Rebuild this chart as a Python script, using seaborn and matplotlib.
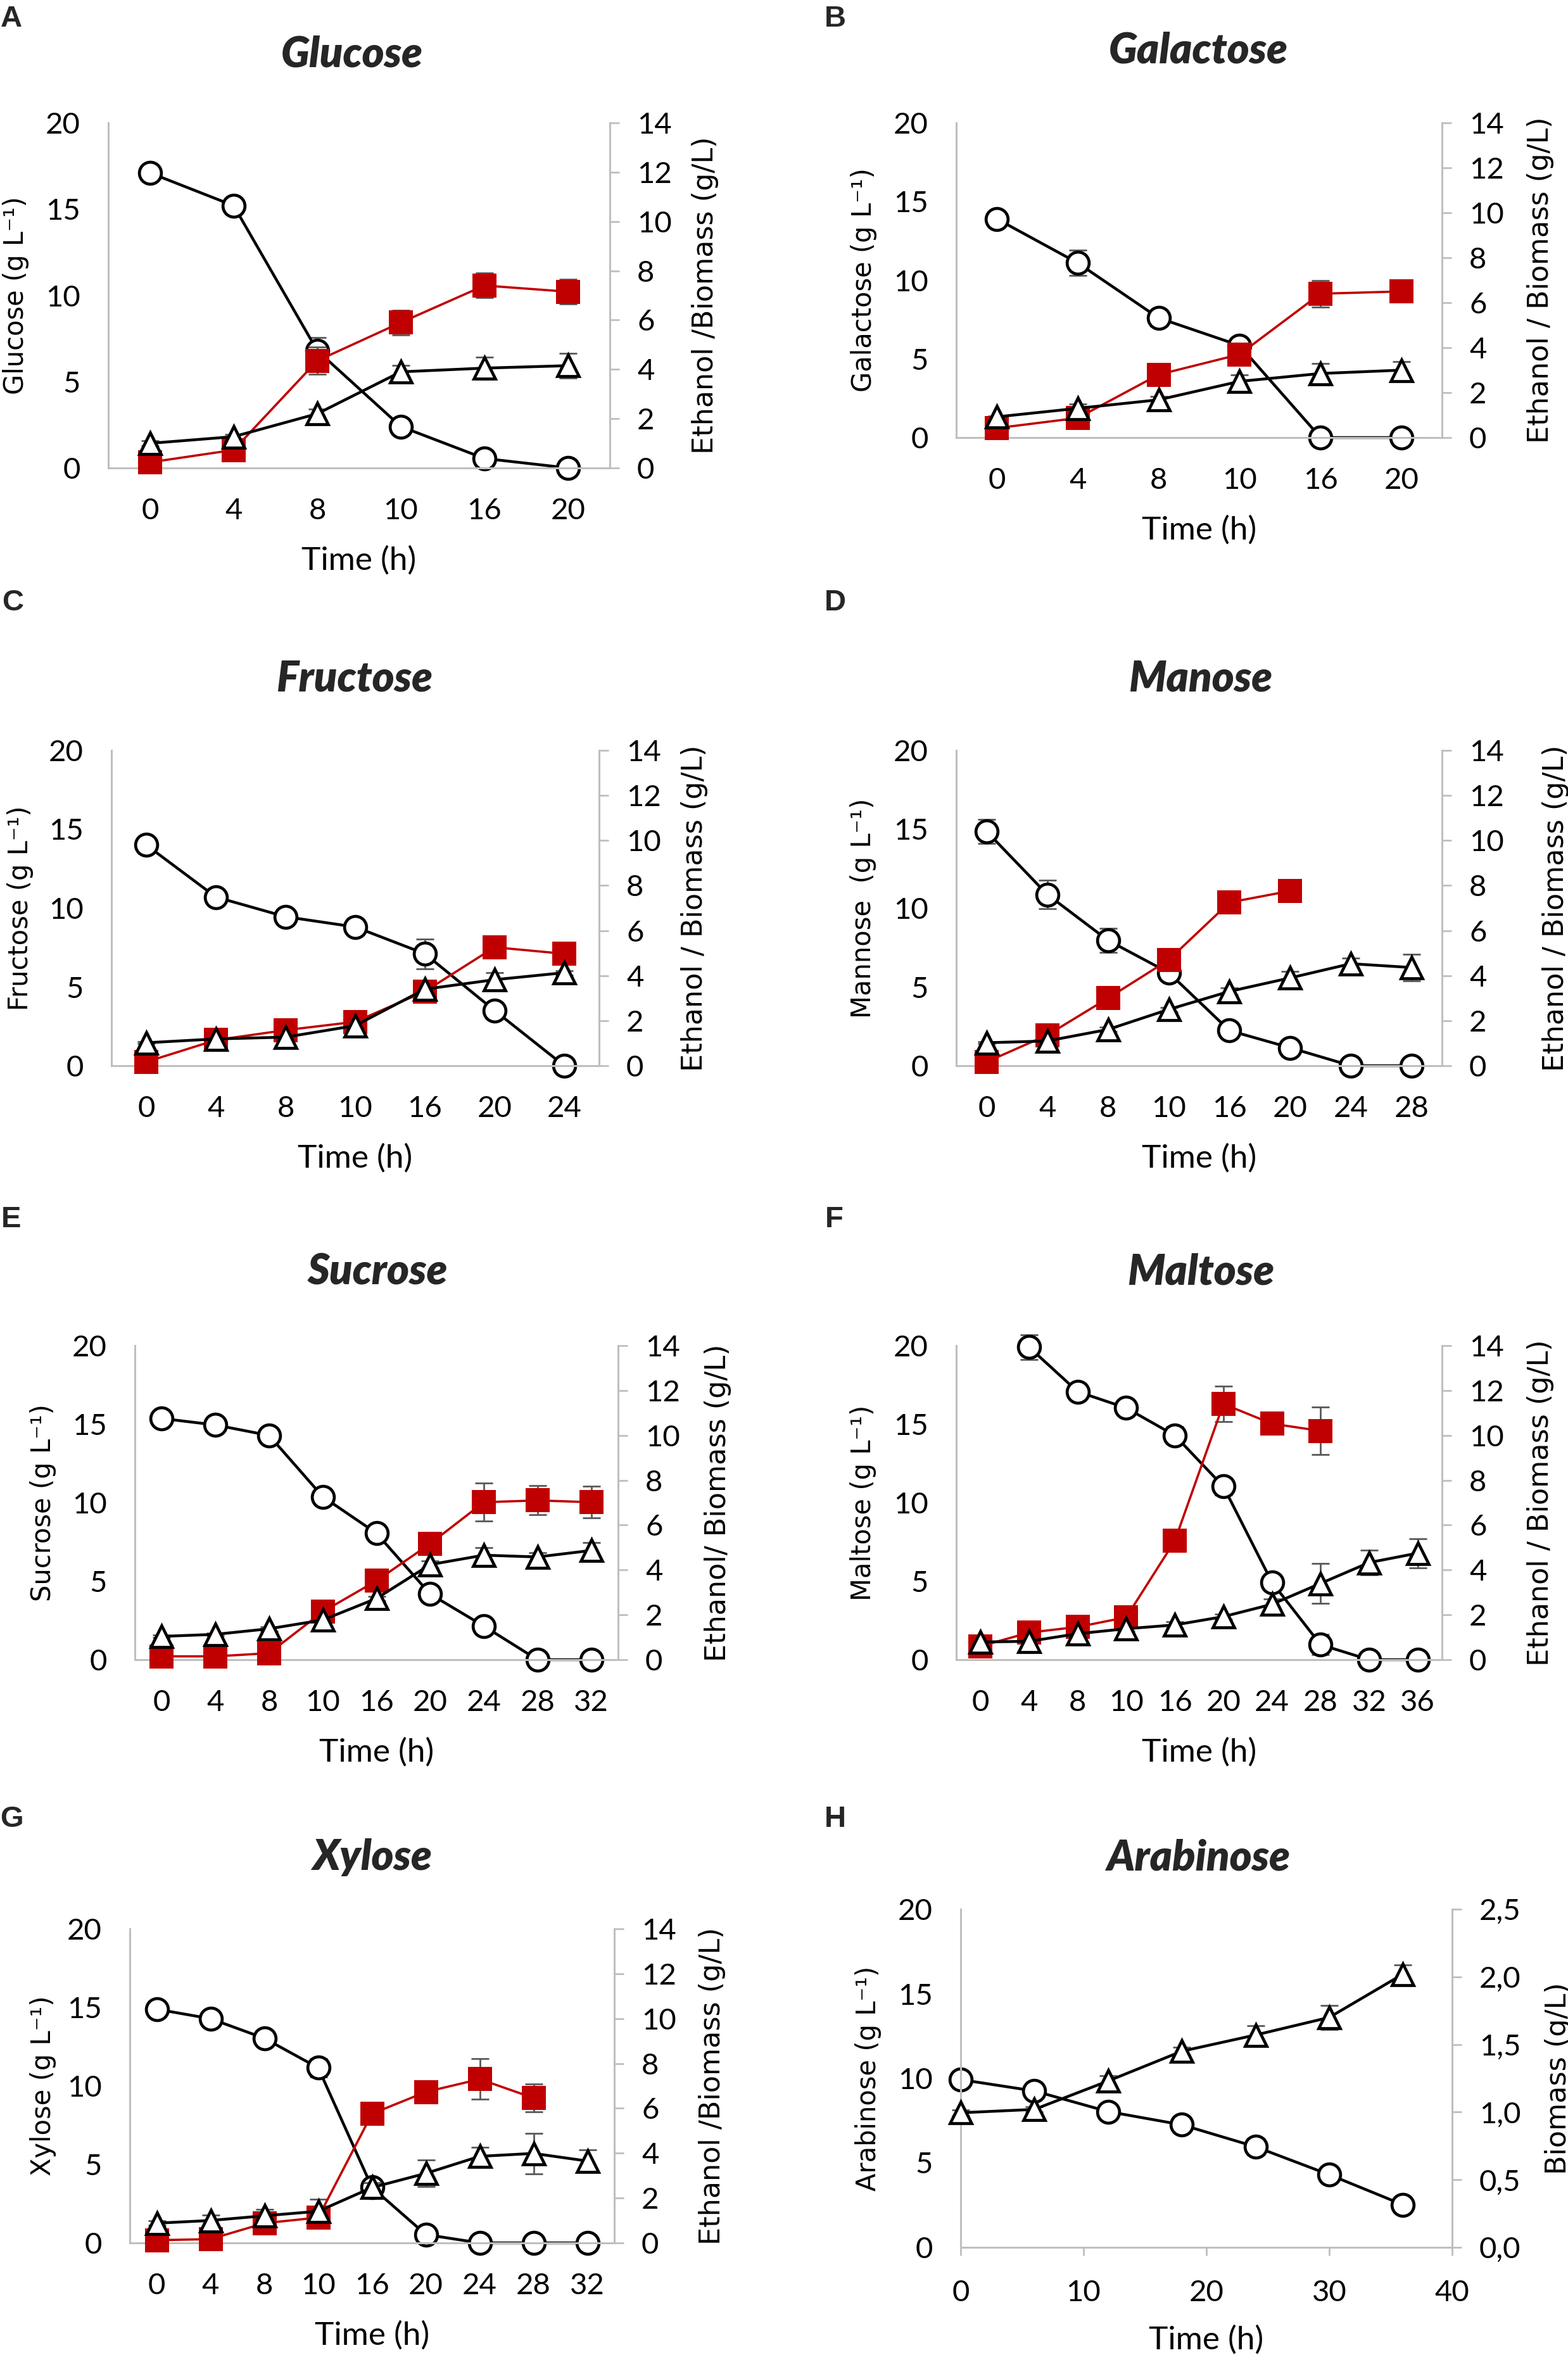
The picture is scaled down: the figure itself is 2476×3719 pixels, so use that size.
import numpy as np
import matplotlib
matplotlib.use("Agg")
import matplotlib.pyplot as plt
from matplotlib.ticker import FuncFormatter, MultipleLocator
import seaborn as sns

nan = np.nan

# A - glucose
glucose_time = [0, 4, 8, 10, 16, 20]
glucose_sugar = [17.1, 15.2, 6.8, 2.4, 0.55, 0.0]
glucose_sugar_err = [0.3, 0.2, 0.75, 0.2, 0.2, 0.1]
glucose_ethanol = [0.23, 0.73, 4.35, 5.9, 7.4, 7.15]
glucose_ethanol_err = [0.05, 0.1, 0.55, 0.5, 0.5, 0.5]
glucose_biomass = [1.0, 1.27, 2.2, 3.9, 4.05, 4.15]
glucose_biomass_err = [0.1, 0.1, 0.2, 0.25, 0.45, 0.5]

# B - galactose
galactose_time = [0, 4, 8, 10, 16, 20]
galactose_sugar = [13.9, 11.1, 7.6, 5.85, 0.0, 0.0]
galactose_sugar_err = [0.1, 0.8, 0.5, 0.2, 0.0, 0.0]
galactose_ethanol = [0.42, 0.87, 2.8, 3.7, 6.4, 6.5]
galactose_ethanol_err = [0.05, 0.1, 0.1, 0.15, 0.6, 0.1]
galactose_biomass = [0.92, 1.3, 1.68, 2.5, 2.85, 3.0]
galactose_biomass_err = [0.05, 0.2, 0.15, 0.3, 0.45, 0.38]

# C - fructose
fructose_time = [0, 4, 8, 10, 16, 20, 24]
fructose_sugar = [14.0, 10.7, 9.45, 8.8, 7.1, 3.5, 0.0]
fructose_sugar_err = [0.1, 0.1, 0.2, 0.1, 0.95, 0.1, 0.0]
fructose_ethanol = [0.17, 1.14, 1.58, 1.95, 3.3, 5.26, 4.97]
fructose_ethanol_err = [0.05, 0.1, 0.1, 0.15, 0.45, 0.4, 0.1]
fructose_biomass = [1.02, 1.19, 1.27, 1.78, 3.4, 3.82, 4.13]
fructose_biomass_err = [0.05, 0.1, 0.1, 0.1, 0.2, 0.3, 0.1]

# D - mannose
mannose_time = [0, 4, 8, 10, 16, 20, 24, 28]
mannose_sugar = [14.86, 10.86, 7.95, 5.9, 2.23, 1.14, 0.0, 0.0]
mannose_sugar_err = [0.75, 0.9, 0.75, 0.2, 0.1, 0.1, 0.0, 0.0]
mannose_ethanol = [0.17, 1.36, 3.0, 4.7, 7.25, 7.76, nan, nan]
mannose_ethanol_err = [0.05, 0.1, 0.1, 0.1, 0.1, 0.1, nan, nan]
mannose_biomass = [1.02, 1.1, 1.61, 2.5, 3.3, 3.9, 4.53, 4.36]
mannose_biomass_err = [0.05, 0.05, 0.1, 0.1, 0.15, 0.3, 0.25, 0.6]

# E - sucrose
sucrose_time = [0, 4, 8, 10, 16, 20, 24, 28, 32]
sucrose_sugar = [15.36, 14.95, 14.28, 10.38, 8.05, 4.18, 2.14, 0.0, 0.0]
sucrose_sugar_err = [0.5, 0.45, 0.2, 0.2, 0.1, 0.1, 0.1, 0.0, 0.0]
sucrose_ethanol = [0.15, 0.15, 0.29, 2.14, 3.52, 5.17, 7.02, 7.1, 7.02]
sucrose_ethanol_err = [0.05, 0.05, 0.05, 0.15, 0.15, 0.2, 0.85, 0.65, 0.7]
sucrose_biomass = [1.04, 1.13, 1.38, 1.77, 2.73, 4.24, 4.66, 4.58, 4.87]
sucrose_biomass_err = [0.05, 0.05, 0.1, 0.1, 0.1, 0.15, 0.35, 0.2, 0.35]

# F - maltose
maltose_time = [0, 4, 8, 10, 16, 20, 24, 28, 32, 36]
maltose_sugar = [nan, 19.9, 17.07, 16.03, 14.28, 11.03, 4.93, 0.96, 0.0, 0.0]
maltose_sugar_err = [nan, 0.8, 0.2, 0.2, 0.55, 0.55, 0.2, 0.65, 0.0, 0.0]
maltose_ethanol = [0.6, 1.21, 1.46, 1.89, 5.3, 11.4, 10.52, 10.2, nan, nan]
maltose_ethanol_err = [0.05, 0.1, 0.1, 0.15, 0.2, 0.8, 0.15, 1.05, nan, nan]
maltose_biomass = [0.79, 0.82, 1.16, 1.38, 1.55, 1.92, 2.47, 3.4, 4.33, 4.75]
maltose_biomass_err = [0.05, 0.05, 0.05, 0.1, 0.15, 0.1, 0.25, 0.9, 0.55, 0.65]

# G - xylose
xylose_time = [0, 4, 8, 10, 16, 20, 24, 28, 32]
xylose_sugar = [14.88, 14.28, 13.03, 11.15, 3.53, 0.53, 0.0, 0.0, 0.0]
xylose_sugar_err = [0.2, 0.2, 0.2, 0.6, 0.2, 0.1, 0.0, 0.0, 0.0]
xylose_ethanol = [0.12, 0.17, 0.88, 1.13, 5.76, 6.73, 7.3, 6.46, nan]
xylose_ethanol_err = [0.05, 0.05, 0.1, 0.1, 0.15, 0.2, 0.9, 0.62, nan]
xylose_biomass = [0.88, 1.0, 1.21, 1.41, 2.47, 3.1, 3.86, 3.99, 3.65]
xylose_biomass_err = [0.1, 0.25, 0.3, 0.55, 0.2, 0.6, 0.4, 0.9, 0.5]

# H - arabinose (no ethanol, numeric time axis)
arabinose_time = [0, 6, 12, 18, 24, 30, 36]
arabinose_sugar = [9.92, 9.25, 8.03, 7.25, 5.95, 4.3, 2.52]
arabinose_sugar_err = [0.1, 0.1, 0.1, 0.1, 0.5, 0.15, 0.1]
arabinose_biomass = [0.995, 1.02, 1.23, 1.45, 1.57, 1.70, 2.02]
arabinose_biomass_err = [0.02, 0.02, 0.04, 0.03, 0.07, 0.09, 0.07]

W, H = 2476, 3719
RED = "#C00000"
GREY = "#BFBFBF"
ERR = "#595959"

sns.set_theme(style="white")
plt.rcParams["font.family"] = ["Lato", "DejaVu Sans"]
plt.rcParams["axes.unicode_minus"] = False

# axes box px (l, t, r, b), title / letter centre px, left/right label offset px
panels = [
    dict(letter="A", title="Glucose", ylab="Glucose (g L⁻¹)", y2lab="Ethanol /Biomass (g/L)",
         t=glucose_time, s=glucose_sugar, se=glucose_sugar_err,
         e=glucose_ethanol, ee=glucose_ethanol_err, b=glucose_biomass, be=glucose_biomass_err,
         box=(171, 194, 963, 739), tpos=(556, 86), lpos=(18, 30), loff=146, roff=150),
    dict(letter="B", title="Galactose", ylab="Galactose (g L⁻¹)", y2lab="Ethanol / Biomass (g/L)",
         t=galactose_time, s=galactose_sugar, se=galactose_sugar_err,
         e=galactose_ethanol, ee=galactose_ethanol_err, b=galactose_biomass, be=galactose_biomass_err,
         box=(1510, 194, 2277, 691), tpos=(1892, 80), lpos=(1319, 30), loff=146, roff=155),
    dict(letter="C", title="Fructose", ylab="Fructose (g L⁻¹)", y2lab="Ethanol / Biomass (g/L)",
         t=fructose_time, s=fructose_sugar, se=fructose_sugar_err,
         e=fructose_ethanol, ee=fructose_ethanol_err, b=fructose_biomass, be=fructose_biomass_err,
         box=(176, 1185, 946, 1683), tpos=(560, 1071), lpos=(20, 952), loff=144, roff=151),
    dict(letter="D", title="Manose", ylab="Mannose  (g L⁻¹)", y2lab="Ethanol / Biomass (g/L)",
         t=mannose_time, s=mannose_sugar, se=mannose_sugar_err,
         e=mannose_ethanol, ee=mannose_ethanol_err, b=mannose_biomass, be=mannose_biomass_err,
         box=(1510, 1185, 2277, 1683), tpos=(1896, 1071), lpos=(1319, 952), loff=147, roff=179),
    dict(letter="E", title="Sucrose", ylab="Sucrose (g L⁻¹)", y2lab="Ethanol/ Biomass (g/L)",
         t=sucrose_time, s=sucrose_sugar, se=sucrose_sugar_err,
         e=sucrose_ethanol, ee=sucrose_ethanol_err, b=sucrose_biomass, be=sucrose_biomass_err,
         box=(213, 2125, 976, 2621), tpos=(596, 2009), lpos=(18, 1926), loff=145, roff=157),
    dict(letter="F", title="Maltose", ylab="Maltose (g L⁻¹)", y2lab="Ethanol / Biomass (g/L)",
         t=maltose_time, s=maltose_sugar, se=maltose_sugar_err,
         e=maltose_ethanol, ee=maltose_ethanol_err, b=maltose_biomass, be=maltose_biomass_err,
         box=(1510, 2125, 2277, 2621), tpos=(1896, 2009), lpos=(1317, 1926), loff=147, roff=155),
    dict(letter="G", title="Xylose", ylab="Xylose (g L⁻¹)", y2lab="Ethanol /Biomass (g/L)",
         t=xylose_time, s=xylose_sugar, se=xylose_sugar_err,
         e=xylose_ethanol, ee=xylose_ethanol_err, b=xylose_biomass, be=xylose_biomass_err,
         box=(205, 3046, 970, 3542), tpos=(588, 2933), lpos=(18, 2873), loff=137, roff=155),
    dict(letter="H", title="Arabinose", ylab="Arabinose (g L⁻¹)", y2lab="Biomass (g/L)",
         t=arabinose_time, s=arabinose_sugar, se=arabinose_sugar_err,
         e=None, ee=None, b=arabinose_biomass, be=arabinose_biomass_err,
         box=(1517, 3015, 2293, 3549), tpos=(1892, 2933), lpos=(1319, 2873), loff=146, roff=167),
]

fig = plt.figure(figsize=(W / 100, H / 100), dpi=100)


def errbars(ax, x, y, err):
    ax.errorbar(x, np.asarray(y, float), yerr=np.asarray(err, float), fmt="none",
                ecolor=ERR, elinewidth=2, capsize=10, capthick=2, zorder=1.5, clip_on=False)


for p in panels:
    l, t, r, b = p["box"]
    ax = fig.add_axes([l / W, 1 - b / H, (r - l) / W, (b - t) / H])
    ax2 = ax.twinx()
    numeric = p["e"] is None
    x = np.array(p["t"], float) if numeric else np.arange(len(p["t"]), dtype=float)

    # sugar (left axis)
    errbars(ax, x, p["s"], p["se"])
    sns.lineplot(x=x, y=np.asarray(p["s"], float), ax=ax, color="black", linewidth=3.2,
                 marker="o", markersize=25, markerfacecolor="white",
                 markeredgecolor="black", markeredgewidth=3.4, zorder=2, clip_on=False)

    # ethanol + biomass (right axis)
    if not numeric:
        errbars(ax2, x, p["e"], p["ee"])
        sns.lineplot(x=x, y=np.asarray(p["e"], float), ax=ax2, color=RED, linewidth=2.6,
                     marker="s", markersize=27, markerfacecolor=RED,
                     markeredgecolor=RED, markeredgewidth=0, zorder=2, clip_on=False)
    errbars(ax2, x, p["b"], p["be"])
    sns.lineplot(x=x, y=np.asarray(p["b"], float), ax=ax2, color="black", linewidth=3.2,
                 marker="^", markersize=24, markerfacecolor="white",
                 markeredgecolor="black", markeredgewidth=3.4, zorder=3, clip_on=False)

    ax.set_ylim(0, 20)
    ax.yaxis.set_major_locator(MultipleLocator(5))
    if numeric:
        ax.set_xlim(0, 40)
        ax.set_xticks([0, 10, 20, 30, 40])
        ax2.set_ylim(0, 2.5)
        ax2.yaxis.set_major_locator(MultipleLocator(0.5))
        ax2.yaxis.set_major_formatter(FuncFormatter(lambda v, _: f"{v:.1f}".replace(".", ",")))
        ax.tick_params(axis="x", length=9, width=2, color=GREY, direction="out", pad=28)
    else:
        ax.set_xlim(-0.5, len(x) - 0.5)
        ax.set_xticks(x)
        ax.set_xticklabels([str(v) for v in p["t"]])
        ax2.set_ylim(0, 14)
        ax2.yaxis.set_major_locator(MultipleLocator(2))
        ax.tick_params(axis="x", length=0, pad=34)
    ax.tick_params(axis="x", labelsize=34, labelcolor="black", bottom=True)
    ax.tick_params(axis="y", length=0, pad=32, labelsize=34, labelcolor="black", left=True)
    ax2.tick_params(axis="y", length=11, width=2, color=GREY, direction="out", pad=20,
                    labelsize=34, labelcolor="black", right=True)

    for side in ["top", "right"]:
        ax.spines[side].set_visible(False)
    for side in ["left", "bottom"]:
        ax.spines[side].set_color(GREY)
        ax.spines[side].set_linewidth(2.2)
    for side in ["top", "left", "bottom"]:
        ax2.spines[side].set_visible(False)
    ax2.spines["right"].set_visible(True)
    ax2.spines["right"].set_color(GREY)
    ax2.spines["right"].set_linewidth(2.2)
    ax.grid(False)
    ax2.grid(False)

    wpx, hpx = r - l, b - t
    ax.set_ylabel(p["ylab"], fontsize=30, family="DejaVu Sans", va="center", color="black")
    ax.yaxis.set_label_coords(-p["loff"] / wpx, 0.5)
    ax2.set_ylabel(p["y2lab"], fontsize=32, family="DejaVu Sans", va="center", color="black",
                   rotation=90)
    ax2.yaxis.set_label_coords(1 + p["roff"] / wpx, 0.5)
    ax.set_xlabel("Time (h)", fontsize=37, va="center", color="black")
    ax.xaxis.set_label_coords(0.5, -146 / hpx)

    fig.text(p["tpos"][0] / W, 1 - p["tpos"][1] / H, p["title"], fontsize=48,
             fontweight="heavy", fontstyle="italic", ha="center", va="center")
    fig.text(p["lpos"][0] / W, 1 - p["lpos"][1] / H, p["letter"], fontsize=34,
             fontweight="bold", family="Liberation Sans", ha="center", va="center")

fig.savefig("out.png", dpi=100, facecolor="white")
